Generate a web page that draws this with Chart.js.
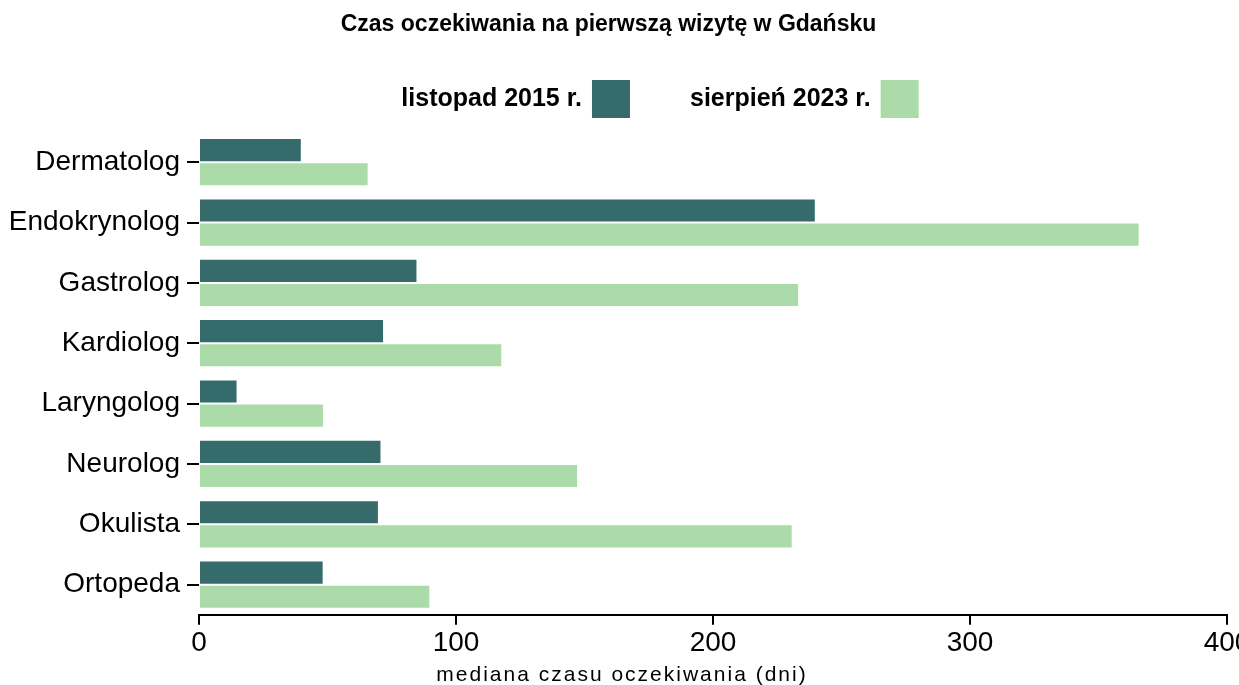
<!DOCTYPE html>
<html lang="pl">
<head>
<meta charset="utf-8">
<title>Czas oczekiwania na pierwszą wizytę w Gdańsku</title>
<script src="https://cdn.jsdelivr.net/npm/chart.js@4/dist/chart.umd.min.js"></script>
<style>
    html, body { margin: 0; padding: 0; background: #fff; overflow: hidden; }
    #wrap { width: 1239px; height: 685px; overflow: hidden; }
    /* a bit wider than the window so the last tick label gets cut like in the original */
    #inner { width: 1260px; height: 685px; position: relative; }
</style>
</head>
<body>
<div id="wrap"><div id="inner"><canvas id="waitChart"></canvas></div></div>
<script>
const categories = ['Dermatolog', 'Endokrynolog', 'Gastrolog', 'Kardiolog', 'Laryngolog', 'Neurolog', 'Okulista', 'Ortopeda'];
const wait2015 = [40, 240, 85, 72, 15, 71, 70, 48.5];
const wait2023 = [66, 366, 233.5, 118, 48.6, 147.5, 231, 90];
const seriesLabels = ['listopad 2015 r.', 'sierpień 2023 r.'];
const xTickValues = [0, 100, 200, 300, 400];
const chartTitle = 'Czas oczekiwania na pierwszą wizytę w Gdańsku';
const xTitle = 'mediana czasu oczekiwania (dni)';

const FONT = '"Liberation Sans", Arial, sans-serif';
const DARK = '#356b6b';
const LIGHT = '#aadba8';

// legend with the colour box on the right of the text
const legendRight = {
    id: 'legendRight',
    afterDraw(chart) {
        const ctx = chart.ctx;
        const box = 38, gap = 10, spacing = 60, centerX = 660, top = 80;
        ctx.save();
        ctx.font = 'bold 25px ' + FONT;
        ctx.textBaseline = 'middle';
        ctx.textAlign = 'left';
        const items = chart.data.datasets.map(ds => ({
            text: ds.label,
            color: ds.backgroundColor,
            w: ctx.measureText(ds.label).width
        }));
        const total = items.reduce((s, it) => s + it.w + gap + box, 0) + spacing * (items.length - 1);
        let x = centerX - total / 2;
        items.forEach(it => {
            ctx.fillStyle = '#000';
            ctx.fillText(it.text, x, top + box / 2);
            x += it.w + gap;
            ctx.fillStyle = it.color;
            ctx.fillRect(x, top, box, box);
            x += box + spacing;
        });
        ctx.restore();
    }
};

// x axis title, spaced out and centred on the page rather than the plot
const axisTitle = {
    id: 'axisTitle',
    afterDraw(chart) {
        const ctx = chart.ctx;
        ctx.save();
        ctx.font = '21px ' + FONT;
        ctx.letterSpacing = '2px';
        ctx.fillStyle = '#000';
        ctx.textAlign = 'center';
        ctx.textBaseline = 'middle';
        ctx.fillText(xTitle, 622, 675);
        ctx.restore();
    }
};

const ctx = document.getElementById('waitChart').getContext('2d');

new Chart(ctx, {
    type: 'bar',
    data: {
        labels: categories,
        datasets: [
            {
                label: seriesLabels[0],
                data: wait2015,
                backgroundColor: DARK,
                borderColor: 'rgba(255, 255, 255, 0.5)',
                borderWidth: 1
            },
            {
                label: seriesLabels[1],
                data: wait2023,
                backgroundColor: LIGHT,
                borderColor: 'rgba(255, 255, 255, 0.5)',
                borderWidth: 1
            }
        ]
    },
    plugins: [legendRight, axisTitle],
    options: {
        indexAxis: 'y',
        responsive: true,
        maintainAspectRatio: false,
        animation: false,
        categoryPercentage: 0.8,
        barPercentage: 1,
        layout: {
            padding: { left: -10, right: 33, top: 0, bottom: 22.6 }
        },
        scales: {
            x: {
                min: 0,
                max: 400,
                afterBuildTicks: scale => {
                    scale.ticks = xTickValues.map(v => ({ value: v }));
                },
                border: { display: true, color: '#000', width: 2 },
                grid: {
                    display: true,
                    drawOnChartArea: false,
                    drawTicks: true,
                    tickLength: 10,
                    color: '#000',
                    lineWidth: 2
                },
                ticks: {
                    color: '#000',
                    padding: 2,
                    maxRotation: 0,
                    font: { family: FONT, size: 28 }
                },
                title: { display: false }
            },
            y: {
                afterFit: scale => {
                    scale.width = 209;
                },
                border: { display: false },
                grid: {
                    display: true,
                    offset: false,
                    drawOnChartArea: false,
                    drawTicks: true,
                    tickLength: 12,
                    color: '#000',
                    lineWidth: 2
                },
                ticks: {
                    color: '#000',
                    padding: 7,
                    font: { family: FONT, size: 28 }
                }
            }
        },
        plugins: {
            title: {
                display: true,
                text: chartTitle,
                color: '#000',
                font: { family: FONT, size: 23, weight: 'bold', lineHeight: 1.2 },
                padding: { top: 11, bottom: 93.4 }
            },
            legend: { display: false },
            tooltip: { enabled: false }
        }
    }
});
</script>
</body>
</html>
